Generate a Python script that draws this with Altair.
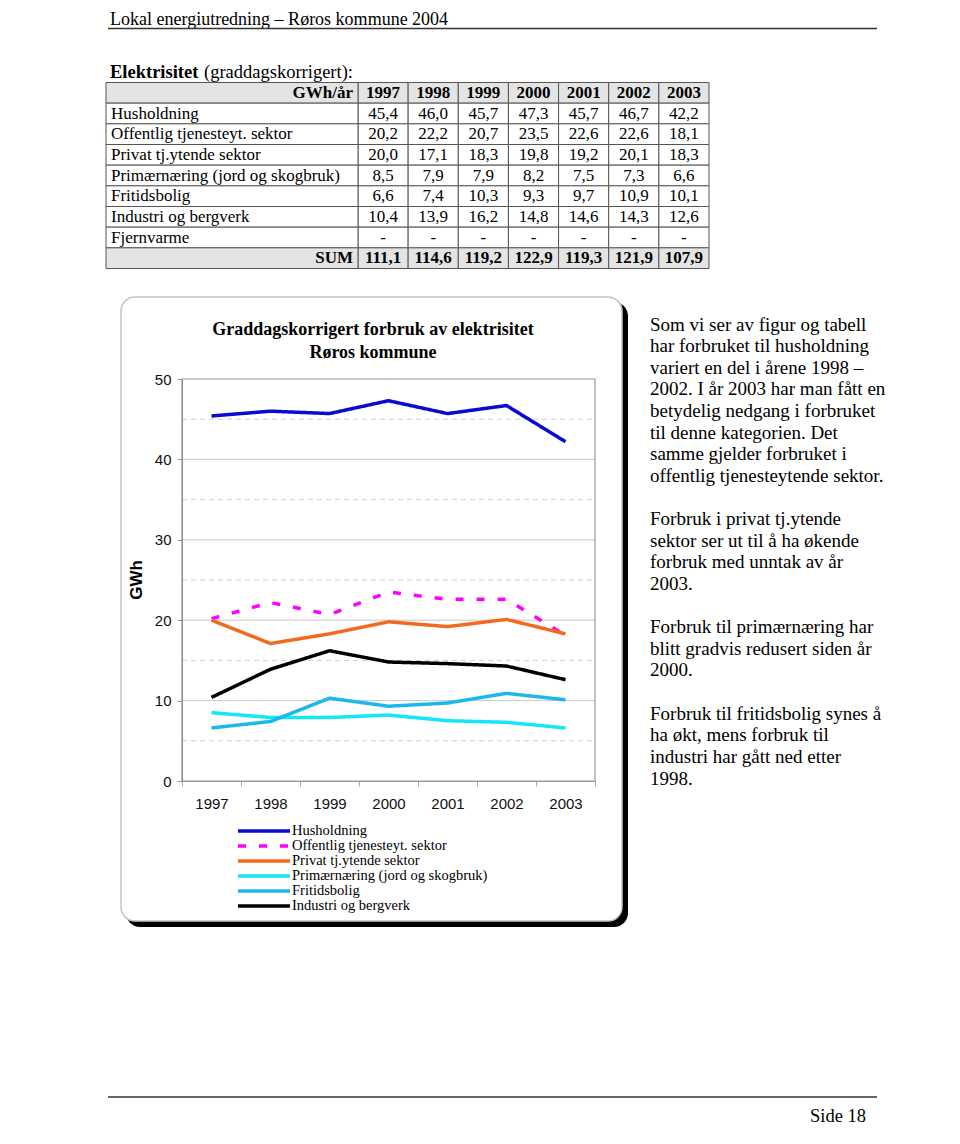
import altair as alt
import pandas as pd

# ---------------- data ----------------
YEARS = ["1997", "1998", "1999", "2000", "2001", "2002", "2003"]
CATEGORIES = [
    "Husholdning",
    "Offentlig tjenesteyt. sektor",
    "Privat tj.ytende sektor",
    "Primærnæring (jord og skogbruk)",
    "Fritidsbolig",
    "Industri og bergverk",
]
HUSHOLDNING = [45.4, 46.0, 45.7, 47.3, 45.7, 46.7, 42.2]
OFFENTLIG = [20.2, 22.2, 20.7, 23.5, 22.6, 22.6, 18.1]
PRIVAT = [20.0, 17.1, 18.3, 19.8, 19.2, 20.1, 18.3]
PRIMAER = [8.5, 7.9, 7.9, 8.2, 7.5, 7.3, 6.6]
FRITID = [6.6, 7.4, 10.3, 9.3, 9.7, 10.9, 10.1]
INDUSTRI = [10.4, 13.9, 16.2, 14.8, 14.6, 14.3, 12.6]
FJERNVARME = ["-", "-", "-", "-", "-", "-", "-"]
SUMS = [111.1, 114.6, 119.2, 122.9, 119.3, 121.9, 107.9]
SERIES = [HUSHOLDNING, OFFENTLIG, PRIVAT, PRIMAER, FRITID, INDUSTRI]

TABLE_HEAD = "GWh/år"
TABLE_ROWS = [
    "Husholdning",
    "Offentlig tjenesteyt. sektor",
    "Privat tj.ytende sektor",
    "Primærnæring (jord og skogbruk)",
    "Fritidsbolig",
    "Industri og bergverk",
    "Fjernvarme",
]
TABLE_SUM = "SUM"

Y_TICKS = [0, 10, 20, 30, 40, 50]
MAJOR_GRID = [10, 20, 30, 40]
MINOR_GRID = [5, 15, 25, 35, 45]

PAGE_HEADER = "Lokal energiutredning – Røros kommune 2004"
SECTION_BOLD = "Elektrisitet"
SECTION_REST = "(graddagskorrigert):"
CHART_TITLE_1 = "Graddagskorrigert forbruk av elektrisitet"
CHART_TITLE_2 = "Røros kommune"
Y_TITLE = "GWh"
FOOTER = "Side 18"

PARAGRAPHS = [
    ["Som vi ser av figur og tabell", "har forbruket til husholdning",
     "variert en del i årene 1998 –", "2002. I år 2003 har man fått en",
     "betydelig nedgang i forbruket", "til denne kategorien. Det",
     "samme gjelder forbruket i", "offentlig tjenesteytende sektor."],
    ["Forbruk i privat tj.ytende", "sektor ser ut til å ha økende",
     "forbruk med unntak av år", "2003."],
    ["Forbruk til primærnæring har", "blitt gradvis redusert siden år", "2000."],
    ["Forbruk til fritidsbolig synes å", "ha økt, mens forbruk til",
     "industri har gått ned etter", "1998."],
]

# ---------------- styles / layout ----------------
SERIF = "Liberation Serif"
SANS = "Liberation Sans"
COLORS = ["#0a0ad2", "#ff00ff", "#f26a1e", "#12e6f7", "#1cb8ec", "#000000"]
DASHES = [[1, 0], [8, 13], [1, 0], [1, 0], [1, 0], [1, 0]]
OX = 174  # view origin (left padding) sits on the plot's left edge
LINE_H = 21.62


def X(v):
    return v - OX


def fmt(v):
    return v if isinstance(v, str) else f"{v:.1f}".replace(".", ",")


def label(txt, x, y, size, weight="normal", align="left", font=SERIF,
          baseline="alphabetic", angle=0, **kw):
    return alt.Chart(pd.DataFrame({"t": [txt]})).mark_text(
        font=font, fontSize=size, fontWeight=weight, align=align,
        baseline=baseline, angle=angle, color="black", **kw
    ).encode(x=alt.value(X(x)), y=alt.value(y), text="t:N")


def one():
    return alt.Chart(pd.DataFrame({"k": [0]}))


# ---------------- page header ----------------
header = label(PAGE_HEADER, 102, 16.5, 18)
header_rule = one().mark_rule(color="#333333", strokeWidth=1.5).encode(
    x=alt.value(X(100)), x2=alt.value(X(869)), y=alt.value(20.5))
section1 = label(SECTION_BOLD, 102, 69.5, 18.5, weight="bold")
section2 = label(SECTION_REST, 196, 69.5, 18.5)

# ---------------- table ----------------
ROW_ORDER = [TABLE_HEAD] + TABLE_ROWS + [TABLE_SUM]
cells = []
for yr in YEARS:
    cells.append({"row": TABLE_HEAD, "year": yr, "txt": yr})
for name, vals in zip(TABLE_ROWS, SERIES + [FJERNVARME]):
    for yr, v in zip(YEARS, vals):
        cells.append({"row": name, "year": yr, "txt": fmt(v)})
for yr, v in zip(YEARS, SUMS):
    cells.append({"row": TABLE_SUM, "year": yr, "txt": fmt(v)})
cells = pd.DataFrame(cells)
rows_df = pd.DataFrame({"row": ROW_ORDER})

is_head = f"datum.row == '{TABLE_HEAD}' || datum.row == '{TABLE_SUM}'"
tx = alt.X("year:N", sort=YEARS, axis=None,
           scale=alt.Scale(type="band", domain=YEARS, range=[X(350), X(701)],
                           paddingInner=0, paddingOuter=0))
ty = alt.Y("row:N", sort=ROW_ORDER, axis=None,
           scale=alt.Scale(type="band", domain=ROW_ORDER, range=[74.5, 260.5],
                           paddingInner=0, paddingOuter=0))
fill_cond = alt.condition(is_head, alt.value("#e4e4e4"), alt.value("#ffffff"))

cell_rect = alt.Chart(cells).mark_rect(stroke="#555555", strokeWidth=1).encode(
    x=tx, y=ty, fill=fill_cond)
label_rect = alt.Chart(rows_df).mark_rect(stroke="#555555", strokeWidth=1).encode(
    x=alt.value(X(98)), x2=alt.value(X(350)), y=ty, fill=fill_cond)
cell_txt = alt.Chart(cells).transform_filter(f"!({is_head})").mark_text(
    font=SERIF, fontSize=17, baseline="middle", color="black").encode(
    x=tx, y=ty, text="txt:N")
cell_txt_b = alt.Chart(cells).transform_filter(is_head).mark_text(
    font=SERIF, fontSize=17, fontWeight="bold", baseline="middle", color="black").encode(
    x=tx, y=ty, text="txt:N")
row_txt = alt.Chart(rows_df).transform_filter(f"!({is_head})").mark_text(
    font=SERIF, fontSize=17, baseline="middle", align="left", color="black").encode(
    x=alt.value(X(103)), y=ty, text="row:N")
row_txt_b = alt.Chart(rows_df).transform_filter(is_head).mark_text(
    font=SERIF, fontSize=17, fontWeight="bold", baseline="middle", align="right",
    color="black").encode(x=alt.value(X(345)), y=ty, text="row:N")
table = alt.layer(cell_rect, label_rect, cell_txt, cell_txt_b, row_txt, row_txt_b)

# ---------------- chart box ----------------
shadow = one().mark_rect(fill="#000000", cornerRadius=14).encode(
    x=alt.value(X(118)), x2=alt.value(X(620)), y=alt.value(294), y2=alt.value(919))
box = one().mark_rect(fill="#ffffff", stroke="#c4c4c4", strokeWidth=1.5,
                      cornerRadius=14).encode(
    x=alt.value(X(113)), x2=alt.value(X(614)), y=alt.value(289), y2=alt.value(913))
title1 = label(CHART_TITLE_1, 365, 327, 18, weight="bold", align="center")
title2 = label(CHART_TITLE_2, 365, 350, 18, weight="bold", align="center")
ytitle = label(Y_TITLE, 129, 572, 17, weight="bold", align="center", font=SANS,
               baseline="middle", angle=270)

# ---------------- line chart ----------------
long = pd.DataFrame([
    {"year": yr, "cat": c, "val": v}
    for c, vals in zip(CATEGORIES, SERIES) for yr, v in zip(YEARS, vals)
])
yscale = alt.Scale(domain=[0, 50], range=[773, 371], nice=False, zero=True)
yaxis = alt.Axis(orient="left", offset=0, title=None, values=Y_TICKS,
                 labelFont=SANS, labelFontSize=15, labelColor="#111111",
                 labelPadding=6, tickSize=5, tickColor="#999999",
                 domainColor="#888888", grid=False, zindex=1)
leg = alt.Legend(orient="none", legendX=X(228), legendY=816.5, title=None,
                 symbolType="stroke", symbolSize=2704, symbolStrokeWidth=3.5,
                 labelFont=SERIF, labelFontSize=14.5, labelColor="black",
                 labelOffset=0, clipHeight=13, rowPadding=0, padding=0,
                 labelLimit=400)

major = alt.Chart(pd.DataFrame({"val": MAJOR_GRID})).mark_rule(
    color="#c9c9c9", strokeWidth=1).encode(
    y=alt.Y("val:Q", scale=yscale, axis=yaxis), x=alt.value(X(174)), x2=alt.value(X(587)))
minor = alt.Chart(pd.DataFrame({"val": MINOR_GRID})).mark_rule(
    color="#cfcfcf", strokeWidth=1, strokeDash=[5, 4]).encode(
    y=alt.Y("val:Q", scale=yscale, axis=yaxis), x=alt.value(X(174)), x2=alt.value(X(587)))
border = one().mark_rect(fillOpacity=0, stroke="#999999", strokeWidth=1.2).encode(
    x=alt.value(X(174)), x2=alt.value(X(587)), y=alt.value(371), y2=alt.value(773))
lines = alt.Chart(long).mark_line(strokeWidth=3.5).encode(
    x=alt.X("year:O", sort=YEARS, bandPosition=0.5,
            scale=alt.Scale(type="band", domain=YEARS, range=[X(174), X(587)],
                            paddingInner=0, paddingOuter=0),
            axis=alt.Axis(orient="bottom", offset=-355, title=None, labelAngle=0,
                          labelFont=SANS, labelFontSize=15, labelColor="#111111",
                          labelPadding=10, tickBand="extent", tickSize=5,
                          tickColor="#aaaaaa", domainColor="#999999",
                          grid=False, zindex=1)),
    y=alt.Y("val:Q", scale=yscale, axis=yaxis),
    color=alt.Color("cat:N", scale=alt.Scale(domain=CATEGORIES, range=COLORS),
                    legend=leg),
    strokeDash=alt.StrokeDash("cat:N", scale=alt.Scale(domain=CATEGORIES, range=DASHES),
                              legend=leg),
    detail="cat:N",
)
plot = alt.layer(major, minor, border, lines)

# ---------------- side text ----------------
side = []
start = 0
for p in PARAGRAPHS:
    side.append(label("\n".join(p), 642, 307.5 + start * LINE_H, 19, baseline="top",
                      lineBreak="\n", lineHeight=LINE_H))
    start += len(p) + 1

# ---------------- footer ----------------
footer_rule = one().mark_rule(color="#333333", strokeWidth=1.5).encode(
    x=alt.value(X(100)), x2=alt.value(X(869)), y=alt.value(1089))
footer = label(FOOTER, 858, 1114, 18.5, align="right")

chart = alt.layer(
    header, header_rule, section1, section2, table,
    shadow, box, title1, title2, ytitle, plot,
    *side, footer_rule, footer,
).resolve_scale(
    x="independent", y="independent", color="independent", strokeDash="independent"
).properties(
    width=944 - OX, height=1128, autosize=alt.AutoSizeParams(type="none"),
    padding={"left": OX, "top": 0, "right": 0, "bottom": 0}
).configure_view(strokeWidth=0)

chart.save("out.html", embed_options={"renderer": "svg", "actions": False})
